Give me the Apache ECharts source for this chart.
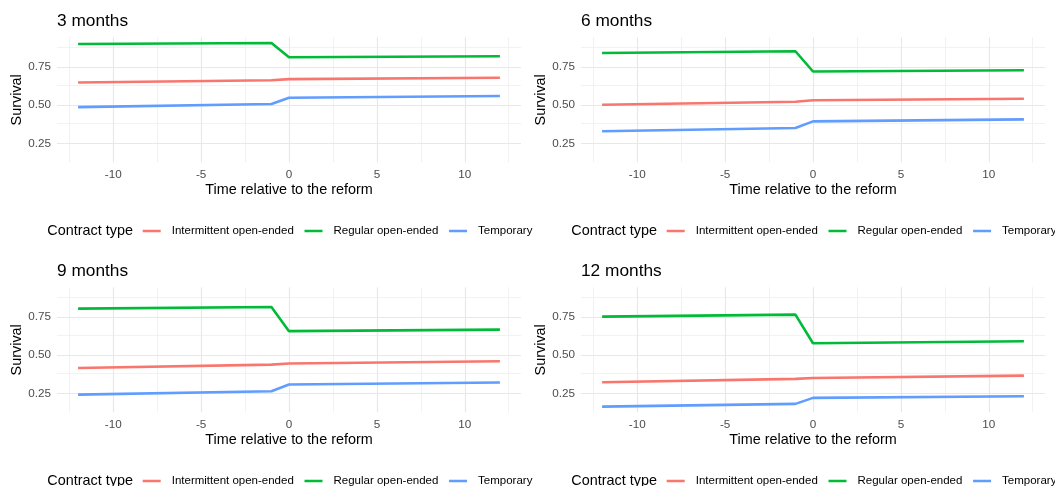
<!DOCTYPE html>
<html>
<head>
<meta charset="utf-8">
<script src="https://cdn.jsdelivr.net/npm/echarts@6/dist/echarts.min.js"></script>
<style>
html,body{margin:0;padding:0;background:#fff;}
#chart{width:1055px;height:486px;}
</style>
</head>
<body>
<div id="chart"></div>
<script>
// ---- data ----
const timePoints = [-12, -1, 0, 12];
const panelTitles = ['3 months', '6 months', '9 months', '12 months'];
const seriesNames = ['Intermittent open-ended', 'Regular open-ended', 'Temporary'];
const seriesColors = ['#F8766D', '#00BA38', '#619CFF'];

const m3Intermittent = [0.648, 0.663, 0.670, 0.679];
const m3Regular      = [0.899, 0.906, 0.813, 0.819];
const m3Temporary    = [0.488, 0.508, 0.549, 0.560];

const m6Intermittent = [0.503, 0.523, 0.533, 0.542];
const m6Regular      = [0.841, 0.852, 0.720, 0.728];
const m6Temporary    = [0.330, 0.352, 0.395, 0.408];

const m9Intermittent = [0.417, 0.439, 0.446, 0.461];
const m9Regular      = [0.804, 0.815, 0.657, 0.667];
const m9Temporary    = [0.243, 0.265, 0.309, 0.322];

const m12Intermittent = [0.324, 0.346, 0.352, 0.367];
const m12Regular      = [0.752, 0.765, 0.578, 0.591];
const m12Temporary    = [0.165, 0.183, 0.222, 0.233];

const xMajorTicks = [-10, -5, 0, 5, 10];
const xMinorTicks = [-12.5, -7.5, -2.5, 2.5, 7.5, 12.5];
const yMajorTicks = [0.25, 0.50, 0.75];
const yMinorTicks = [0.375, 0.625, 0.875];

const xLimits = [-13.2, 13.2];
const yLimits = [0.128, 0.943];

const panelData = [
  [m3Intermittent, m3Regular, m3Temporary],
  [m6Intermittent, m6Regular, m6Temporary],
  [m9Intermittent, m9Regular, m9Temporary],
  [m12Intermittent, m12Regular, m12Temporary]
];

// ---- layout ----
const FONT = '"Liberation Sans", Arial, Helvetica, sans-serif';
const panelDX = 524, panelDY = 250;
const gridW = 464, gridH = 125, gridL = 57, gridT = 37.3;

const grids = [], xAxes = [], yAxes = [], series = [], titles = [], legends = [], graphics = [];

const legendIcon = 'path://M0,0L0.01,0L0.01,0.01Z M0,4.75L18,4.75L18,7.25L0,7.25Z M24,12L23.99,12L23.99,11.99Z';

panelTitles.forEach((title, i) => {
  const ox = (i % 2) * panelDX;
  const oy = Math.floor(i / 2) * panelDY;
  grids.push({left: gridL + ox, top: gridT + oy, width: gridW, height: gridH,
    containLabel: false, outerBoundsMode: 'none'});
  xAxes.push({
    type: 'value', gridIndex: i, min: xLimits[0], max: xLimits[1],
    axisLine: {show: false}, axisTick: {show: false}, splitLine: {show: false},
    axisLabel: {customValues: xMajorTicks, color: '#4D4D4D', fontSize: 11.7, fontFamily: FONT, margin: 6.5},
    name: 'Time relative to the reform', nameLocation: 'middle', nameGap: 21,
    nameTextStyle: {color: '#000', fontSize: 14.4, fontFamily: FONT}
  });
  yAxes.push({
    type: 'value', gridIndex: i, min: yLimits[0], max: yLimits[1],
    axisLine: {show: false}, axisTick: {show: false}, splitLine: {show: false},
    axisLabel: {customValues: yMajorTicks, color: '#4D4D4D', fontSize: 11.7, fontFamily: FONT, margin: 6,
      formatter: v => v.toFixed(2)},
    name: 'Survival', nameLocation: 'middle', nameGap: 31,
    nameTextStyle: {color: '#000', fontSize: 14.4, fontFamily: FONT}
  });
  titles.push({text: title, left: gridL + ox, top: 13 + oy, padding: 0,
    textStyle: {fontSize: 17.3, fontWeight: 'normal', color: '#000', fontFamily: FONT}});
  legends.push({
    data: seriesNames, left: 142.7 + ox, top: 225 + oy, width: 600, padding: 0,
    orient: 'horizontal', itemWidth: 24, itemHeight: 12, itemGap: 10.7, icon: legendIcon,
    selectedMode: false,
    textStyle: {fontSize: 11.5, color: '#000', fontFamily: FONT}
  });
  graphics.push({type: 'text', x: 47.3 + ox, y: 231 + oy,
    style: {text: 'Contract type', fill: '#000', font: '14.4px ' + FONT, textVerticalAlign: 'middle', verticalAlign: 'middle'}});

  const gridLines = [];
  xMinorTicks.forEach(v => gridLines.push({xAxis: v, lineStyle: {color: '#F0F0F0', width: 0.9, type: 'solid'}}));
  yMinorTicks.forEach(v => gridLines.push({yAxis: v, lineStyle: {color: '#F0F0F0', width: 0.9, type: 'solid'}}));
  xMajorTicks.forEach(v => gridLines.push({xAxis: v, lineStyle: {color: '#E8E8E8', width: 1.2, type: 'solid'}}));
  yMajorTicks.forEach(v => gridLines.push({yAxis: v, lineStyle: {color: '#E8E8E8', width: 1.2, type: 'solid'}}));

  panelData[i].forEach((vals, s) => {
    const ser = {
      type: 'line', name: seriesNames[s], xAxisIndex: i, yAxisIndex: i,
      data: timePoints.map((t, k) => [t, vals[k]]),
      symbol: 'none', z: 3, color: seriesColors[s],
      lineStyle: {width: 2.6, color: seriesColors[s]},
      emphasis: {disabled: true}, animation: false
    };
    if (s === 0) {
      ser.markLine = {silent: true, z: 1, symbol: ['none', 'none'], label: {show: false},
        animation: false, emphasis: {disabled: true}, data: gridLines};
    }
    series.push(ser);
  });
});

const chart = echarts.init(document.getElementById('chart'), null, {renderer: 'canvas'});
chart.setOption({
  backgroundColor: '#fff',
  animation: false,
  title: titles,
  grid: grids,
  xAxis: xAxes,
  yAxis: yAxes,
  legend: legends,
  graphic: graphics,
  series: series
});
</script>
</body>
</html>
